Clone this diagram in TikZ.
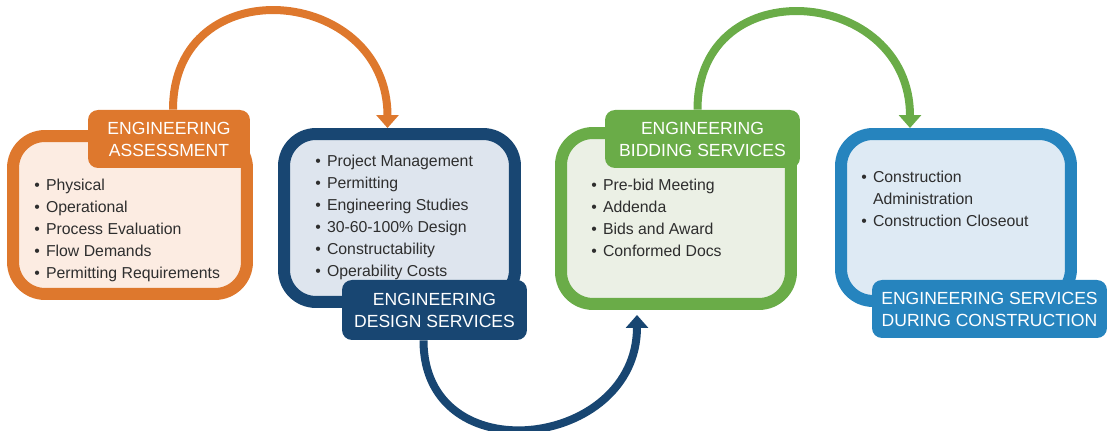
\documentclass[tikz,border=0pt]{standalone}
\usepackage{fontspec}
\setmainfont{Liberation Sans}
\usetikzlibrary{arrows.meta}
\definecolor{assessC}{RGB}{222,120,45}
\definecolor{assessF}{RGB}{252,236,226}
\definecolor{designC}{RGB}{24,70,114}
\definecolor{designF}{RGB}{222,229,238}
\definecolor{bidC}{RGB}{106,172,72}
\definecolor{bidF}{RGB}{235,240,229}
\definecolor{constrC}{RGB}{38,132,190}
\definecolor{constrF}{RGB}{222,234,244}
\newcommand{\itemlist}[1]{\begin{tabular}[t]{@{}l@{\hspace{3.5pt}}l@{}}#1\end{tabular}}
\begin{document}
\begin{tikzpicture}[x=0.02cm, y=0.02cm, line join=round,
  box/.style={draw, line width=0.24cm, rounded corners=0.64cm, inner sep=0pt},
  tab/.style={rounded corners=0.2cm, inner sep=0pt, text=white, align=center, font=\fontsize{10}{12.5}\selectfont},
  items/.style={inner sep=0pt, anchor=base west, text=black!82, font=\fontsize{9}{12.5}\selectfont},
  flow/.style={line width=0.16cm, -{Triangle[width=0.44cm,length=0.26cm]}, looseness=1.7}]
\useasboundingbox (0,0) rectangle (1107,-431);

% the four stages
\node[box, draw=assessC, fill=assessF, minimum width=4.68cm, minimum height=3.16cm] (assess) at (130,-215) {};
\node[box, draw=designC, fill=designF, minimum width=4.62cm, minimum height=3.36cm] (design) at (399.5,-218) {};
\node[box, draw=bidC, fill=bidF, minimum width=4.60cm, minimum height=3.42cm] (bid) at (676,-218.5) {};
\node[box, draw=constrC, fill=constrF, minimum width=4.60cm, minimum height=3.34cm] (constr) at (956,-217.5) {};

% title tabs
\node[tab, fill=assessC, minimum width=3.24cm, minimum height=1.16cm] (assessTab) at (169,-139) {ENGINEERING\\ASSESSMENT};
\node[tab, fill=designC, minimum width=3.70cm, minimum height=1.20cm] (designTab) at (434.5,-310) {ENGINEERING\\DESIGN SERVICES};
\node[tab, fill=bidC, minimum width=3.90cm, minimum height=1.16cm] (bidTab) at (702.5,-139) {ENGINEERING\\BIDDING SERVICES};
\node[tab, fill=constrC, minimum width=4.70cm, minimum height=1.16cm] (constrTab) at (989.5,-309) {ENGINEERING SERVICES\\DURING CONSTRUCTION};

% lists
\node[items] (assessList) at (34,-191) {\itemlist{\textbullet & Physical\\ \textbullet & Operational\\ \textbullet & Process Evaluation\\ \textbullet & Flow Demands\\ \textbullet & Permitting Requirements}};
\node[items] (designList) at (315,-167) {\itemlist{\textbullet & Project Management\\ \textbullet & Permitting\\ \textbullet & Engineering Studies\\ \textbullet & 30-60-100\% Design\\ \textbullet & Constructability\\ \textbullet & Operability Costs}};
\node[items] (bidList) at (591,-191) {\itemlist{\textbullet & Pre-bid Meeting\\ \textbullet & Addenda\\ \textbullet & Bids and Award\\ \textbullet & Conformed Docs}};
\node[items] (constrList) at (861,-183) {\itemlist{\textbullet & Construction\\ & Administration\\ \textbullet & Construction Closeout}};

% arrows between stages
\draw[flow, assessC] ([xshift=0.08cm]assessTab.north) to[out=90, in=90] ([xshift=-0.24cm]design.north);
\draw[flow, designC, looseness=1.6] ([xshift=-0.22cm]designTab.south) to[out=-90, in=-90] ([xshift=-0.78cm, yshift=-0.1cm]bid.south);
\draw[flow, bidC] ([xshift=-0.1cm]bidTab.north) to[out=90, in=90] ([xshift=-0.92cm]constr.north);
\end{tikzpicture}
\end{document}
